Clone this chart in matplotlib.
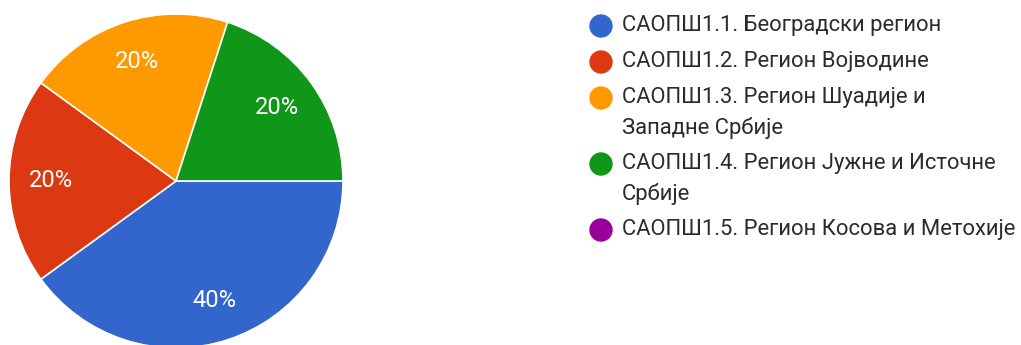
import matplotlib.pyplot as plt
from matplotlib.patches import Circle

plt.rcParams['font.family'] = ['Roboto', 'DejaVu Sans']

# data
labels = [
    'САОПШ1.1. Београдски регион',
    'САОПШ1.2. Регион Војводине',
    'САОПШ1.3. Регион Шуадије и\nЗападне Србије',
    'САОПШ1.4. Регион Јужне и Источне\nСрбије',
    'САОПШ1.5. Регион Косова и Метохије',
]
counts = [2, 1, 1, 1, 0]
colors = ['#3366cc', '#dc3912', '#ff9900', '#109618', '#990099']

W, H = 1021, 345
fig = plt.figure(figsize=(W / 100, H / 100), dpi=100)
ax = fig.add_axes([0, 0, 1, 1])
ax.set_xlim(0, W)
ax.set_ylim(0, H)
ax.set_aspect('equal')
ax.axis('off')

# pie (only non-zero slices are drawn)
vals = [c for c in counts if c > 0]
cols = [colors[i] for i, c in enumerate(counts) if c > 0]
wedges, _, autotexts = ax.pie(
    vals, colors=cols, center=(176, H - 181), radius=167,
    startangle=0, counterclock=False,
    autopct='%1.0f%%', pctdistance=0.75,
    wedgeprops=dict(edgecolor='white', linewidth=1.2),
    textprops=dict(color='white', fontsize=17),
)
ax.set_xlim(0, W)
ax.set_ylim(0, H)

# legend
y = 26
for lab, col in zip(labels, colors):
    ax.add_patch(Circle((601, H - y), 11, color=col))
    lines = lab.split('\n')
    for k, line in enumerate(lines):
        ax.text(622, H - (y + 30 * k), line, fontsize=15.8, color='#2b2b2b',
                va='center', ha='left')
    y += 30 * len(lines) + 6

fig.savefig('out.png', dpi=100)
